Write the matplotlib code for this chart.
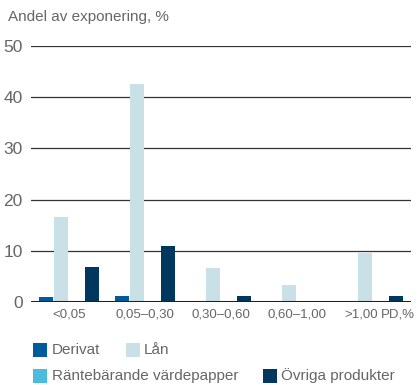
import matplotlib
matplotlib.use("Agg")
import matplotlib.pyplot as plt
from matplotlib.patches import Rectangle
import numpy as np

categories = ["<0,05", "0,05–0,30", "0,30–0,60", "0,60–1,00", ">1,00"]
derivat = [1.0, 1.1, 0.0, 0.0, 0.0]
lan = [16.6, 42.6, 6.6, 3.3, 9.5]
rantebarande = [0.0, 0.0, 0.0, 0.0, 0.0]
ovriga = [6.8, 10.9, 1.1, 0.0, 1.1]

series_names = ["Derivat", "Lån", "Räntebärande värdepapper", "Övriga produkter"]
series_values = [derivat, lan, rantebarande, ovriga]
colors = ["#005a9c", "#c9e0e6", "#4bbcdc", "#00375f"]

plt.rcParams["font.family"] = ["Liberation Sans", "DejaVu Sans"]
text_color = "#666666"

fig = plt.figure(figsize=(4.17, 3.85), dpi=100)
ax = fig.add_axes([31 / 417, (385 - 302) / 385, 380 / 417, 256 / 385])

x = np.arange(len(categories))
offsets = [-0.3, -0.1, 0.1, 0.3]
width = 0.185
for vals, off, col in zip(series_values, offsets, colors):
    ax.bar(x + off, vals, width=width, color=col, zorder=3, linewidth=0)

ax.set_xlim(-0.5, len(categories) - 0.5)
ax.set_ylim(0, 50)
ax.set_yticks([0, 10, 20, 30, 40, 50])
ax.yaxis.grid(True, color="#333333", linewidth=0.9, zorder=1)
ax.axhline(0, color="#222222", linewidth=2.2, zorder=4)
for s in ax.spines.values():
    s.set_visible(False)
ax.tick_params(axis="y", length=0, pad=6, labelsize=12.5, labelcolor=text_color)
ax.tick_params(axis="x", length=0, pad=5, labelsize=9.5, labelcolor=text_color)
ax.set_xticks(x[:-1])
ax.set_xticklabels(categories[:-1])
ax.text(x[-1] - 0.16, -1.3, categories[-1], ha="center", va="top",
        fontsize=9.5, color=text_color)
ax.text(x[-1] + 0.555, -1.3, "PD,%", ha="right", va="top",
        fontsize=9.5, color=text_color, clip_on=False)

fig.text(8 / 417, 1 - 17 / 385, "Andel av exponering, %", ha="left",
         va="center", fontsize=11, color=text_color)

# legend laid out in two rows
legend_items = [
    (0, 33, 52, 350),
    (1, 126, 144, 350),
    (2, 33, 52, 376),
    (3, 263, 281, 376),
]
for idx, sx, tx, cy in legend_items:
    fig.patches.append(Rectangle((sx / 417, 1 - (cy + 7) / 385), 14 / 417,
                                 14 / 385, transform=fig.transFigure,
                                 color=colors[idx], linewidth=0))
    fig.text(tx / 417, 1 - cy / 385, series_names[idx], ha="left",
             va="center", fontsize=11, color=text_color)

fig.savefig("out.png", dpi=100)
